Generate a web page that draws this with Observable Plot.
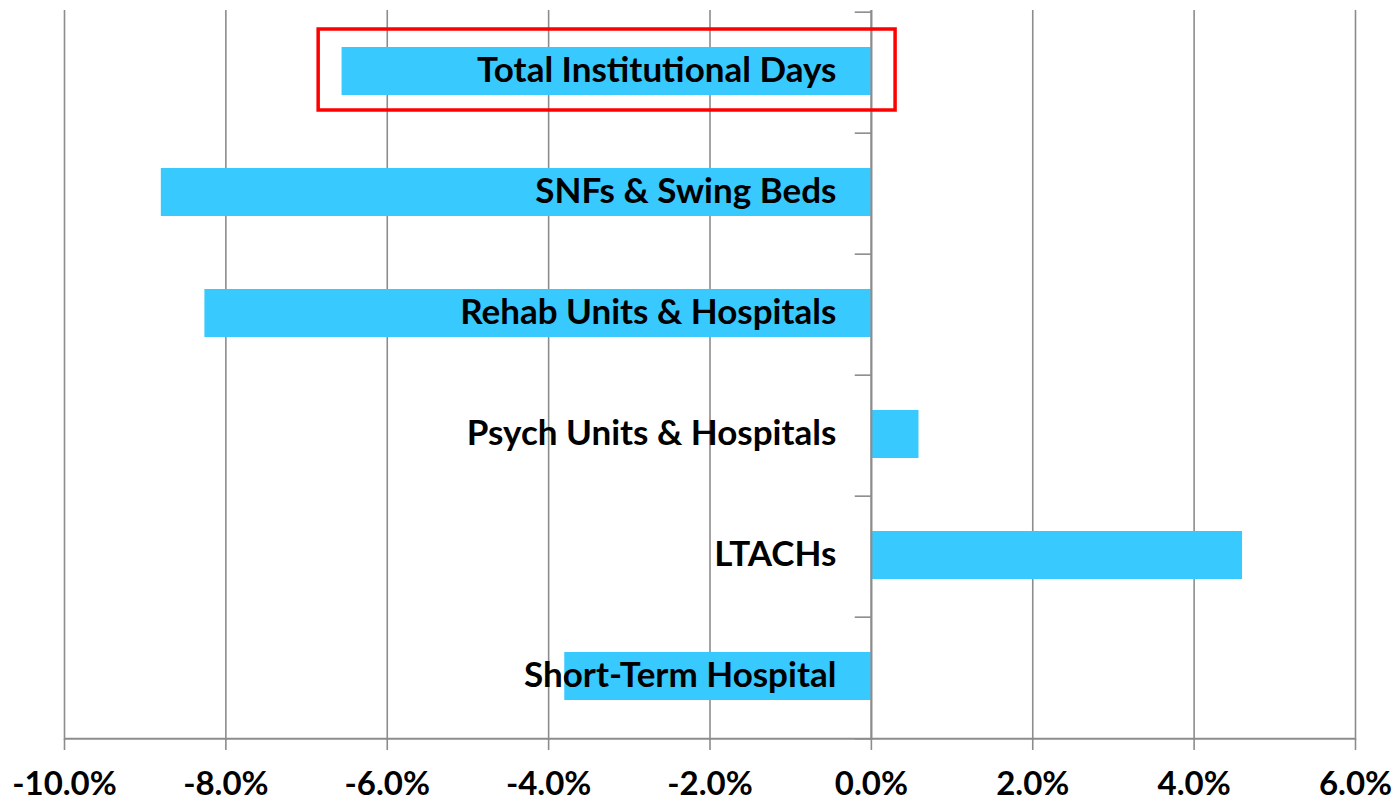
<!DOCTYPE html>
<html>
<head>
<meta charset="utf-8">
<script src="https://cdn.jsdelivr.net/npm/d3@7"></script>
<script src="https://cdn.jsdelivr.net/npm/@observablehq/plot@0.6"></script>
<style>
  html, body { margin: 0; padding: 0; background: #fff; }
  #chart { width: 1395px; height: 805px; }
</style>
</head>
<body>
<div id="chart"></div>
<script>
const categories = ["Total Institutional Days", "SNFs & Swing Beds", "Rehab Units & Hospitals", "Psych Units & Hospitals", "LTACHs", "Short-Term Hospital"];
const changes = [-0.0656, -0.088, -0.0826, 0.0059, 0.046, -0.038];
const xTicks = [-0.10, -0.08, -0.06, -0.04, -0.02, 0, 0.02, 0.04, 0.06];
const highlight = ["Total Institutional Days"];
const highlightRange = [-0.0685, 0.003];

const data = categories.map((c, i) => ({category: c, value: changes[i]}));

const W = 1395, H = 805;
const mTop = 10, mBottom = 65, mLeft = 64, mRight = 40;
const step = (H - mTop - mBottom) / categories.length;
const fmt = d => d3.format(".1%")(d).replace("\u2212", "-");
const font = "Lato, 'Open Sans', sans-serif";

const chart = Plot.plot({
  width: W,
  height: H,
  marginTop: mTop,
  marginBottom: mBottom,
  marginLeft: mLeft,
  marginRight: mRight,
  style: {fontFamily: font, background: "#fff"},
  x: {domain: [-0.10, 0.06], axis: null},
  y: {domain: categories, padding: 0, axis: null},
  marks: [
    // vertical gridlines
    Plot.ruleX(xTicks, {stroke: "#8c8c8c", strokeWidth: 1.6}),
    // bars
    Plot.barX(data, {y: "category", x: "value", fill: "#38c9ff", insetTop: 35, insetBottom: 38}),
    // zero axis
    Plot.ruleX([0], {stroke: "#8c8c8c", strokeWidth: 2}),
    // category tick marks on zero axis
    Plot.ruleY(categories, {y: d => d, x1: -0.002, x2: 0, dy: -step / 2, stroke: "#8c8c8c", strokeWidth: 1.6}),
    Plot.ruleY(categories.slice(-1), {y: d => d, x1: -0.002, x2: 0, dy: step / 2, stroke: "#8c8c8c", strokeWidth: 1.6}),
    // bottom axis line
    Plot.ruleY(categories.slice(-1), {y: d => d, x1: -0.10, x2: 0.06, dy: step / 2, stroke: "#8c8c8c", strokeWidth: 2}),
    // bottom ticks
    Plot.tickX(xTicks, {x: d => d, stroke: "#8c8c8c", strokeWidth: 1.6, y: () => categories[categories.length - 1], insetTop: step, insetBottom: -12 }),
    // category labels
    Plot.text(data, {y: "category", x: 0, text: "category", textAnchor: "end", dx: -35, dy: -2, fontSize: 35, fontWeight: "bold", fill: "#000"}),
    // x tick labels
    Plot.text(xTicks, {x: d => d, y: () => categories[categories.length - 1], dy: step / 2 + 46, text: fmt, fontSize: 33, fontWeight: "bold", fill: "#000"}),
    // highlight box
    Plot.barX(highlight, {y: d => d, x1: () => highlightRange[0], x2: () => highlightRange[1], fill: "none", stroke: "#ff0000", strokeWidth: 3.5, insetTop: 17, insetBottom: 23})
  ]
});
document.getElementById("chart").appendChild(chart);
</script>
</body>
</html>
